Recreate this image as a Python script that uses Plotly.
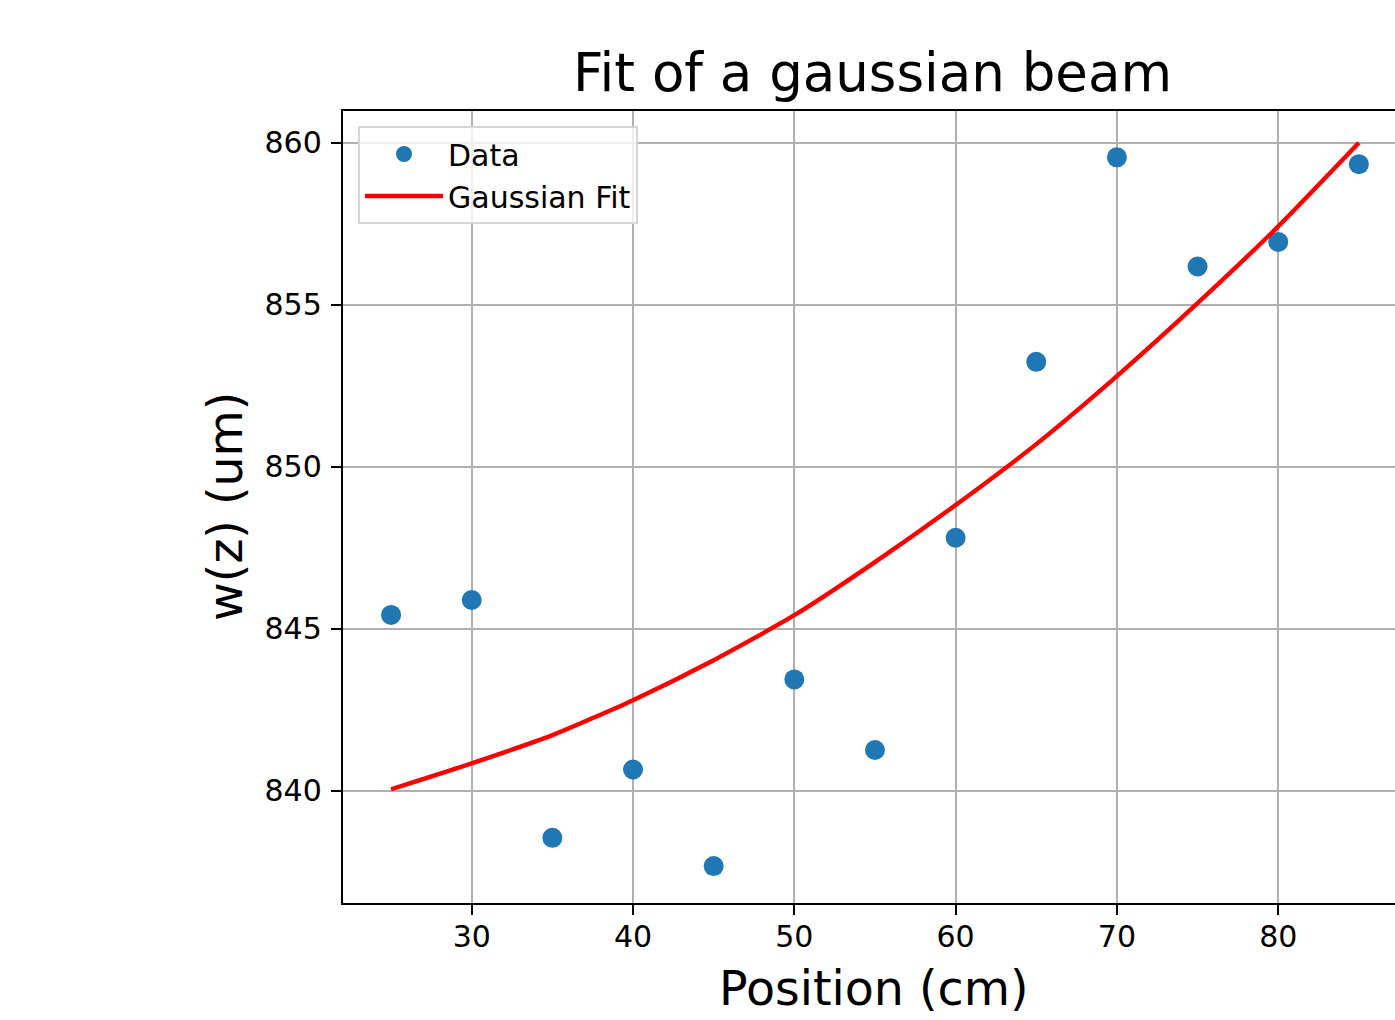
import plotly.graph_objects as go

# Data
positions = [25, 30, 35, 40, 45, 50, 55, 60, 65, 70, 75, 80, 85]
waist_um = [845.43, 845.89, 838.55, 840.66, 837.68, 843.44, 841.26,
            847.81, 853.24, 859.55, 856.18, 856.94, 859.34]

fit_positions = [25, 30, 35, 40, 45, 50, 55, 60, 65, 70, 75, 80, 85]
fit_values = [840.05, 840.85, 841.72, 842.80, 844.03, 845.42, 847.06,
              848.82, 850.70, 852.80, 855.05, 857.42, 860.00]

x_ticks = [30, 40, 50, 60, 70, 80]
y_ticks = [840, 845, 850, 855, 860]

FONT = "DejaVu Sans"

fig = go.Figure()
fig.add_trace(go.Scatter(
    x=positions, y=waist_um, mode="markers", name="Data",
    marker=dict(color="#1f77b4", size=20, line=dict(width=0)),
))
fig.add_trace(go.Scatter(
    x=fit_positions, y=fit_values, mode="lines", name="Gaussian Fit",
    line=dict(color="red", width=4.4, shape="spline", smoothing=0.6),
))

W, H = 1395, 1020
L, T = 343, 111
plot_bottom = 902.7
B = H - plot_bottom
R = 0
PW = W - L - R
PH = plot_bottom - T

fig.update_layout(
    width=W, height=H,
    margin=dict(l=L, r=R, t=T, b=B, pad=0),
    paper_bgcolor="white", plot_bgcolor="white",
    font=dict(family=FONT, size=30, color="black"),
    title=dict(text="Fit of a gaussian beam", x=872.5 / W, xanchor="center",
               y=1 - 72 / H, yanchor="middle", yref="container", xref="container",
               font=dict(family=FONT, size=53, color="black")),
    showlegend=True,
    legend=dict(x=(358 - L) / PW, y=1 - (126 - T) / PH,
                xanchor="left", yanchor="top",
                bgcolor="rgba(255,255,255,0.8)", bordercolor="#d6d6d6", borderwidth=2,
                font=dict(family=FONT, size=30, color="black"),
                itemwidth=78, tracegroupgap=0),
    xaxis=dict(range=[22.02, 87.24], tickvals=x_ticks, showgrid=True,
               gridcolor="#b0b0b0", gridwidth=2.4, zeroline=False,
               showline=True, linecolor="black", linewidth=2.4, mirror=True,
               ticks="outside", ticklen=10, tickwidth=2.4, tickcolor="black",
               ticklabelstandoff=-4,
               tickfont=dict(family=FONT, size=30, color="black")),
    yaxis=dict(range=[836.54, 860.98], tickvals=y_ticks, showgrid=True,
               gridcolor="#b0b0b0", gridwidth=2.4, zeroline=False,
               showline=True, linecolor="black", linewidth=2.4, mirror=False,
               ticks="outside", ticklen=10, tickwidth=2.4, tickcolor="black",
               ticklabelstandoff=3,
               tickfont=dict(family=FONT, size=30, color="black")),
    annotations=[
        dict(text="Position (cm)", xref="paper", yref="paper",
             x=(874 - L) / PW, y=-(988 - plot_bottom) / PH,
             xanchor="center", yanchor="middle", showarrow=False,
             font=dict(family=FONT, size=47.5, color="black")),
        dict(text="w(z) (um)", xref="paper", yref="paper",
             x=-(L - 225) / PW, y=0.5, textangle=-90,
             xanchor="center", yanchor="middle", showarrow=False,
             font=dict(family=FONT, size=47.5, color="black")),
    ],
)

fig.write_html(
    "out.html",
    config={"displayModeBar": False},
    post_script="document.body.style.margin='0';document.documentElement.style.overflow='hidden';",
)
